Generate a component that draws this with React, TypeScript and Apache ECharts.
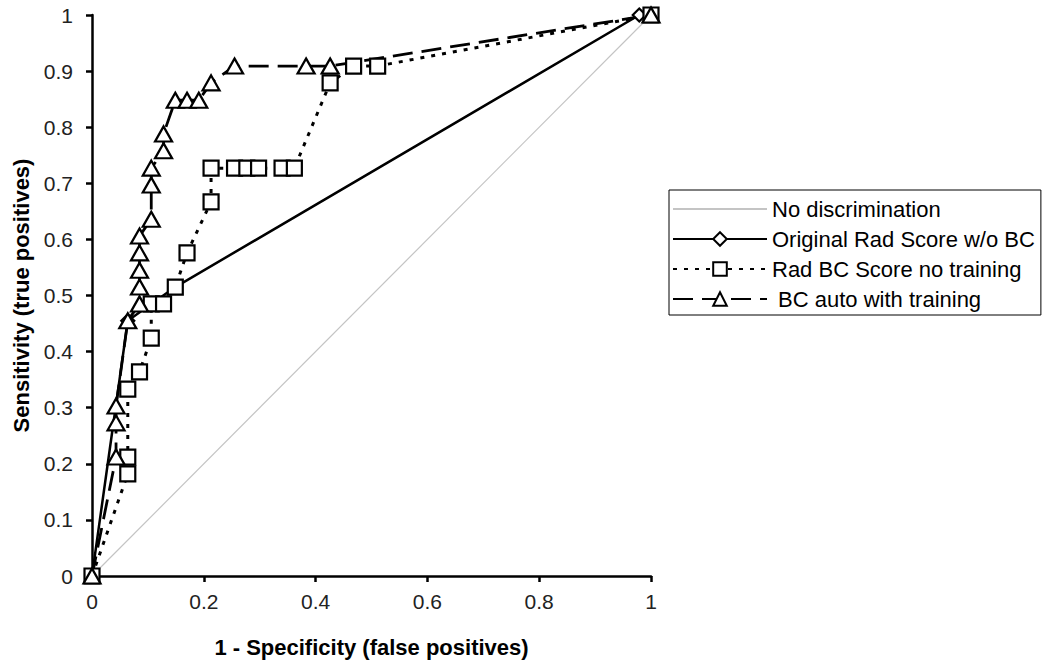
import React, { useEffect, useRef } from "react";
import * as echarts from "echarts";

const seriesNames = [
  "No discrimination",
  "Original Rad Score w/o BC",
  "Rad BC Score no training",
  " BC auto with training",
];

const noDiscrimination: [number, number][] = [
  [0, 0],
  [1, 1],
];

const originalRad: [number, number][] = [
  [0, 0],
  [0.064, 0.455],
  [0.106, 0.485],
  [0.149, 0.515],
  [0.979, 1],
  [1, 1],
];

const radBCNoTraining: [number, number][] = [
  [0, 0],
  [0.064, 0.182],
  [0.064, 0.212],
  [0.064, 0.333],
  [0.085, 0.364],
  [0.106, 0.424],
  [0.106, 0.485],
  [0.128, 0.485],
  [0.149, 0.515],
  [0.17, 0.576],
  [0.213, 0.667],
  [0.213, 0.727],
  [0.255, 0.727],
  [0.277, 0.727],
  [0.298, 0.727],
  [0.34, 0.727],
  [0.362, 0.727],
  [0.426, 0.879],
  [0.468, 0.909],
  [0.511, 0.909],
  [1, 1],
];

const bcAutoTraining: [number, number][] = [
  [0, 0],
  [0.043, 0.212],
  [0.043, 0.273],
  [0.043, 0.303],
  [0.064, 0.455],
  [0.085, 0.485],
  [0.085, 0.515],
  [0.085, 0.545],
  [0.085, 0.576],
  [0.085, 0.606],
  [0.106, 0.636],
  [0.106, 0.697],
  [0.106, 0.727],
  [0.128, 0.758],
  [0.128, 0.788],
  [0.149, 0.848],
  [0.17, 0.848],
  [0.191, 0.848],
  [0.213, 0.879],
  [0.255, 0.909],
  [0.383, 0.909],
  [0.426, 0.909],
  [1, 1],
];

const FONT = "'Liberation Sans', Arial, sans-serif";

export default function App() {
  const ref = useRef<HTMLDivElement>(null);
  useEffect(() => {
    if (!ref.current) return;
    const chart = echarts.init(ref.current, undefined, { renderer: "svg" });
    const markerStyle = { color: "#ffffff", borderColor: "#000000", borderWidth: 2.2 };
    chart.setOption({
      animation: false,
      backgroundColor: "#ffffff",
      grid: {
        left: 92,
        right: 398,
        top: 15,
        bottom: 87,
        containLabel: false,
        outerBoundsMode: "none",
      },
      legend: {
        orient: "vertical",
        left: 669,
        top: 190,
        padding: [8, 6, 5, 3],
        itemWidth: 94,
        itemHeight: 17,
        itemGap: 8,
        borderColor: "#000000",
        borderWidth: 1,
        borderRadius: 0,
        textStyle: { fontFamily: FONT, fontSize: 22, lineHeight: 22, color: "#000000" },
        data: [
          {
            name: seriesNames[0],
            itemStyle: { color: "rgba(0,0,0,0)", borderColor: "rgba(0,0,0,0)", borderWidth: 0 },
          },
          seriesNames[1],
          seriesNames[2],
          seriesNames[3],
        ],
      },
      xAxis: {
        type: "value",
        min: 0,
        max: 1,
        interval: 0.2,
        name: "1 - Specificity (false positives)",
        nameLocation: "middle",
        nameGap: 60,
        nameTextStyle: { fontFamily: FONT, fontSize: 22, fontWeight: "bold", color: "#000" },
        axisLine: { show: true, onZero: false, lineStyle: { color: "#000", width: 2.5 } },
        axisTick: { show: true, inside: false, length: 6, lineStyle: { color: "#000", width: 2.5 } },
        axisLabel: { fontFamily: FONT, fontSize: 21, color: "#222", margin: 15 },
        splitLine: { show: false },
      },
      yAxis: {
        type: "value",
        min: 0,
        max: 1,
        interval: 0.1,
        name: "Sensitivity (true positives)",
        nameLocation: "middle",
        nameGap: 60,
        nameRotate: 90,
        nameTextStyle: { fontFamily: FONT, fontSize: 22, fontWeight: "bold", color: "#000" },
        axisLine: { show: true, onZero: false, lineStyle: { color: "#000", width: 2.5 } },
        axisTick: { show: true, inside: false, length: 6, lineStyle: { color: "#000", width: 2.5 } },
        axisLabel: { fontFamily: FONT, fontSize: 21, color: "#222", margin: 19 },
        splitLine: { show: false },
      },
      series: [
        {
          name: seriesNames[0],
          type: "line",
          data: noDiscrimination,
          symbol: "none",
          lineStyle: { color: "#c4c4c4", width: 1.2 },
          itemStyle: { color: "#c4c4c4" },
        },
        {
          name: seriesNames[1],
          type: "line",
          data: originalRad,
          symbol: "diamond",
          symbolSize: 13,
          lineStyle: { color: "#000", width: 2.5, type: "solid" },
          itemStyle: markerStyle,
        },
        {
          name: seriesNames[2],
          type: "line",
          data: radBCNoTraining,
          symbol: "rect",
          symbolSize: 15,
          lineStyle: { color: "#000", width: 3, type: [4, 7] },
          itemStyle: markerStyle,
        },
        {
          name: seriesNames[3],
          type: "line",
          data: bcAutoTraining,
          symbol: "triangle",
          symbolSize: [17, 15],
          lineStyle: { color: "#000", width: 2.8, type: [20, 9] },
          itemStyle: markerStyle,
        },
      ],
    });
    return () => chart.dispose();
  }, []);
  return <div ref={ref} style={{ width: 1049, height: 663, position: "absolute", left: 0, top: 0 }} />;
}
